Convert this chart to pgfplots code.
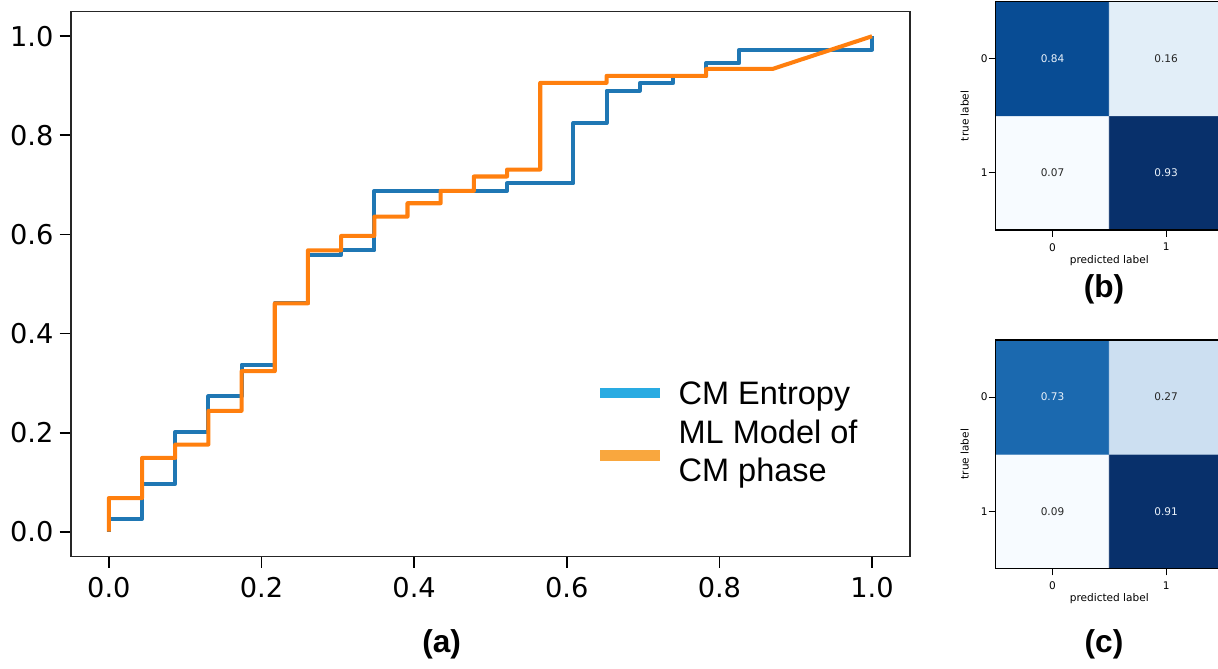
\documentclass[border=0pt]{standalone}
\usepackage{fontspec}
\setmainfont{DejaVu Sans}
\newfontfamily\arial{Liberation Sans}
\usepackage{pgfplots}
\pgfplotsset{compat=1.18}

\definecolor{tabblue}{HTML}{1F77B4}
\definecolor{taborange}{HTML}{FF7F0E}
\definecolor{legblue}{HTML}{29ABE2}
\definecolor{legorange}{HTML}{F9A73E}
\definecolor{cmwhite}{HTML}{EAF2FA}

% matplotlib "Blues"
\pgfplotsset{
  colormap={Blues}{rgb255=(247,251,255) rgb255=(222,235,247) rgb255=(198,219,239)
    rgb255=(158,202,225) rgb255=(107,174,214) rgb255=(66,146,198)
    rgb255=(33,113,181) rgb255=(8,81,156) rgb255=(8,48,107)},
  cm/.style={
    anchor=south west, scale only axis,
    width=4.544cm, height=4.566cm,
    xmin=-0.5, xmax=1.5, ymin=-0.5, ymax=1.5,
    xtick={0,1}, xticklabels={0,1},
    ytick={0,1}, yticklabels={1,0},
    xtick pos=bottom, ytick pos=left,
    tick align=outside, major tick length=0.14cm,
    tick style={black, line width=0.5pt},
    axis line style={black, line width=0.6pt},
    tick label style={font=\fontsize{6}{7}\selectfont},
    label style={font=\fontsize{6}{7}\selectfont},
    yticklabel style={xshift=0.1cm},
    xlabel style={yshift=0.16cm},
    xlabel={predicted label}, ylabel={true label},
    colormap name=Blues, axis on top,
  },
}

\begin{document}
\begin{tikzpicture}
\useasboundingbox (0,0) rectangle (24.36,13.36);
\clip (0,0) rectangle (24.36,13.36);

% (a) ROC-like step curves
\begin{axis}[
  at={(1.414cm,2.23cm)}, anchor=south west, scale only axis,
  width=16.79cm, height=10.9cm,
  xmin=-0.05, xmax=1.05, ymin=-0.05, ymax=1.05,
  xtick={0,0.2,0.4,0.6,0.8,1.0},
  ytick={0,0.2,0.4,0.6,0.8,1.0},
  xtick pos=bottom, ytick pos=left,
  tick align=outside, major tick length=0.22cm,
  tick style={black, line width=1pt},
  axis line style={black!85, line width=1.1pt},
  tick label style={font=\fontsize{15.5}{18}\selectfont},
  xticklabel style={yshift=-0.08cm},
  /pgf/number format/assume math mode=true,
  /pgf/number format/.cd, fixed, fixed zerofill, precision=1,
]
\addplot[tabblue, line width=2.3pt, line join=round] coordinates {
  (0,0) (0,0.026) (0.04348,0.026) (0.04348,0.097) (0.08696,0.097)
  (0.08696,0.201) (0.13043,0.201) (0.13043,0.273) (0.17391,0.273)
  (0.17391,0.337) (0.21739,0.337) (0.21739,0.461) (0.26087,0.461)
  (0.26087,0.558) (0.30435,0.558) (0.30435,0.568) (0.34783,0.568)
  (0.34783,0.688) (0.52174,0.688) (0.52174,0.703) (0.60870,0.703)
  (0.60870,0.825) (0.65217,0.825) (0.65217,0.890) (0.69565,0.890)
  (0.69565,0.905) (0.73913,0.905) (0.73913,0.920) (0.78261,0.920)
  (0.78261,0.946) (0.82609,0.946) (0.82609,0.973) (1,0.973) (1,1)
};
\addplot[taborange, line width=2.3pt, line join=round] coordinates {
  (0,0) (0,0.068) (0.04348,0.068) (0.04348,0.149) (0.08696,0.149)
  (0.08696,0.176) (0.13043,0.176) (0.13043,0.244) (0.17391,0.244)
  (0.17391,0.324) (0.21739,0.324) (0.21739,0.461) (0.26087,0.461)
  (0.26087,0.568) (0.30435,0.568) (0.30435,0.597) (0.34783,0.597)
  (0.34783,0.636) (0.39130,0.636) (0.39130,0.663) (0.43478,0.663)
  (0.43478,0.688) (0.47826,0.688) (0.47826,0.717) (0.52174,0.717)
  (0.52174,0.731) (0.56522,0.731) (0.56522,0.906) (0.65217,0.906)
  (0.65217,0.920) (0.78261,0.920) (0.78261,0.934) (0.86957,0.934) (1,1)
};
\end{axis}

% legend of (a)
\fill[legblue] (12.0,5.40) rectangle (13.2,5.60);
\fill[legorange] (12.0,4.146) rectangle (13.2,4.36);
\node[anchor=base west, inner sep=0] at (13.566,5.26) {\arial\fontsize{18.5}{22}\selectfont CM Entropy};
\node[anchor=base west, inner sep=0] at (13.566,4.48) {\arial\fontsize{18.5}{22}\selectfont ML Model of};
\node[anchor=base west, inner sep=0] at (13.566,3.726) {\arial\fontsize{18.5}{22}\selectfont CM phase};

% (b) confusion matrix
\begin{axis}[cm, at={(19.914cm,8.76cm)}, point meta min=0.07, point meta max=0.93]
\addplot[matrix plot*, mesh/cols=2, point meta=explicit] coordinates {
  (0,0) [0.07] (1,0) [0.93]
  (0,1) [0.84] (1,1) [0.16]
};
\node[cmwhite, font=\fontsize{6}{7}\selectfont] at (axis cs:0,1) {0.84};
\node[black!85, font=\fontsize{6}{7}\selectfont] at (axis cs:1,1) {0.16};
\node[black!85, font=\fontsize{6}{7}\selectfont] at (axis cs:0,0) {0.07};
\node[cmwhite, font=\fontsize{6}{7}\selectfont] at (axis cs:1,0) {0.93};
\end{axis}

% (c) confusion matrix
\begin{axis}[cm, at={(19.914cm,1.994cm)}, point meta min=0.09, point meta max=0.91]
\addplot[matrix plot*, mesh/cols=2, point meta=explicit] coordinates {
  (0,0) [0.09] (1,0) [0.91]
  (0,1) [0.73] (1,1) [0.27]
};
\node[cmwhite, font=\fontsize{6}{7}\selectfont] at (axis cs:0,1) {0.73};
\node[black!85, font=\fontsize{6}{7}\selectfont] at (axis cs:1,1) {0.27};
\node[black!85, font=\fontsize{6}{7}\selectfont] at (axis cs:0,0) {0.09};
\node[cmwhite, font=\fontsize{6}{7}\selectfont] at (axis cs:1,0) {0.91};
\end{axis}

% panel labels
\node[font=\arial\bfseries\fontsize{18}{21}\selectfont] at (8.834,0.47) {(a)};
\node[font=\arial\bfseries\fontsize{18}{21}\selectfont] at (22.08,7.58) {(b)};
\node[font=\arial\bfseries\fontsize{18}{21}\selectfont] at (22.08,0.47) {(c)};
\end{tikzpicture}
\end{document}
